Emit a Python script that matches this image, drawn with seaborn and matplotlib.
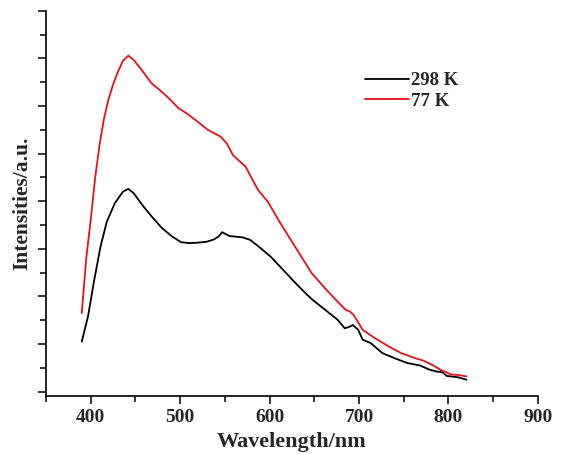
import matplotlib
matplotlib.use("Agg")
import matplotlib.pyplot as plt
from matplotlib.ticker import MultipleLocator, NullFormatter
import seaborn as sns
import pandas as pd

# emission spectra
wl_298 = [390, 397, 404, 411, 418, 427, 436, 442, 448, 459, 470, 480, 491, 501,
          510, 520, 530, 538, 543, 547, 555, 570, 578, 587, 601, 615, 629, 640,
          648, 662, 676, 684, 689, 693, 699, 704, 713, 726, 740, 754, 768, 779,
          787, 793, 798, 811, 820]
int_298 = [1.05, 1.58, 2.35, 3.05, 3.57, 3.96, 4.20, 4.26, 4.17, 3.89, 3.64, 3.43,
           3.26, 3.14, 3.12, 3.13, 3.15, 3.20, 3.26, 3.35, 3.27, 3.24, 3.19, 3.06,
           2.84, 2.56, 2.28, 2.07, 1.93, 1.72, 1.51, 1.33, 1.36, 1.40, 1.30, 1.09,
           1.02, 0.81, 0.70, 0.60, 0.55, 0.46, 0.42, 0.41, 0.33, 0.30, 0.25]

wl_77 = [390, 395, 400, 405, 410, 415, 420, 425, 430, 436, 442, 448, 457, 468,
         477, 487, 498, 507, 517, 531, 545, 552, 559, 573, 587, 598, 612, 626,
         633, 647, 662, 676, 685, 690, 694, 704, 718, 733, 747, 760, 772, 782,
         791, 803, 811, 820]
int_77 = [1.65, 2.8, 3.6, 4.5, 5.2, 5.75, 6.15, 6.45, 6.7, 6.95, 7.06, 6.97, 6.76,
          6.48, 6.34, 6.17, 5.96, 5.85, 5.71, 5.50, 5.36, 5.22, 4.97, 4.73, 4.24,
          3.99, 3.54, 3.12, 2.91, 2.49, 2.17, 1.89, 1.72, 1.68, 1.61, 1.30, 1.12,
          0.95, 0.81, 0.72, 0.65, 0.56, 0.46, 0.36, 0.35, 0.32]

labels = ["298 K", "77 K"]
colors = {"298 K": "black", "77 K": "#e8101a"}

df = pd.concat([
    pd.DataFrame({"wl": wl_298, "I": int_298, "T": labels[0]}),
    pd.DataFrame({"wl": wl_77, "I": int_77, "T": labels[1]}),
])

sns.set_style("ticks")
plt.rcParams["font.family"] = ["Liberation Serif", "DejaVu Serif"]
plt.rcParams["font.weight"] = "bold"

fig = plt.figure(figsize=(5.79, 4.54), dpi=100)
ax = fig.add_axes([0.0794, 0.128, 0.8497, 0.848])

sns.lineplot(data=df, x="wl", y="I", hue="T", palette=colors, sort=False,
             estimator=None, linewidth=1.3, ax=ax)

ax.set_xlim(350, 900)
ax.set_ylim(-0.09, 8)
ax.xaxis.set_major_locator(MultipleLocator(100))
ax.xaxis.set_minor_locator(MultipleLocator(50))
ax.yaxis.set_major_locator(MultipleLocator(1))
ax.yaxis.set_minor_locator(MultipleLocator(0.5))
ax.yaxis.set_major_formatter(NullFormatter())
ax.tick_params(which="both", direction="out", width=1.1, color="black",
               labelsize=14)
ax.tick_params(which="major", length=5.5, pad=4)
ax.tick_params(which="minor", length=4.5)
for t in ax.get_xticklabels():
    t.set_fontweight("bold")

sns.despine(ax=ax)
for s in ("left", "bottom"):
    ax.spines[s].set_linewidth(1.2)
    ax.spines[s].set_color("black")

ax.set_xlabel("Wavelength/nm", fontsize=16, fontweight="bold", labelpad=4)
ax.set_ylabel("Intensities/a.u.", fontsize=15.5, fontweight="bold", labelpad=0)

leg = ax.legend(loc="upper left", bbox_to_anchor=(0.615, 0.885), frameon=False,
                handlelength=2.3, handletextpad=0.15, labelspacing=0.2,
                prop={"weight": "bold", "size": 13.5})
ax.grid(False)

fig.savefig("out.png", dpi=100)
